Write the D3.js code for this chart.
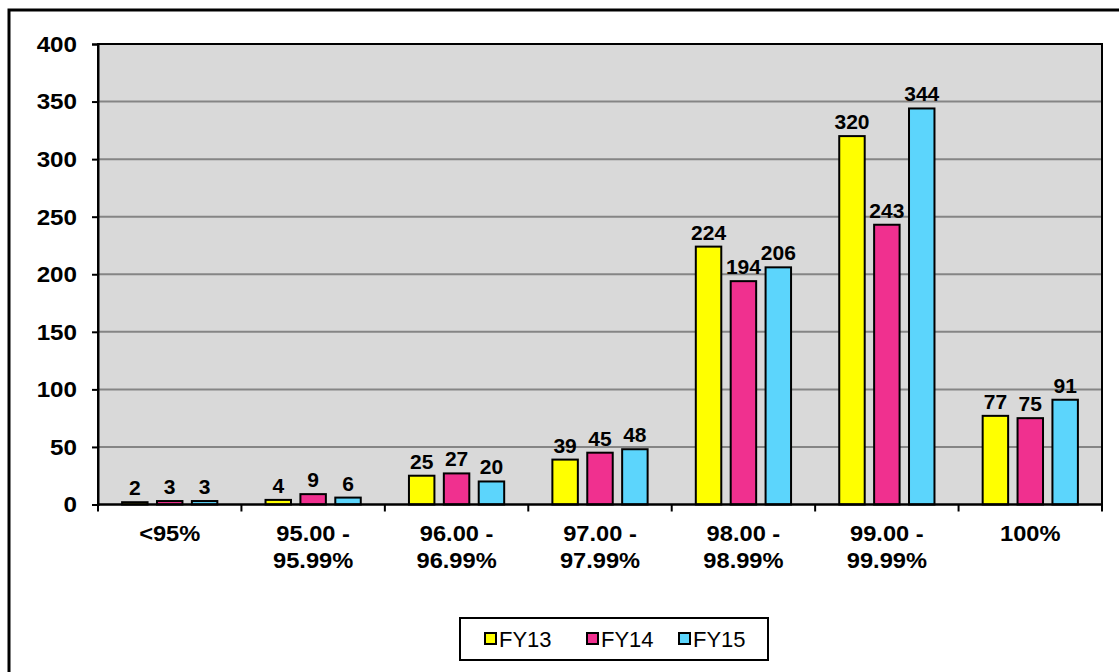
<!DOCTYPE html>
<html>
<head>
<meta charset="utf-8">
<script src="https://cdn.jsdelivr.net/npm/d3@7/dist/d3.min.js"></script>
<style>
  html, body { margin: 0; padding: 0; background: #fff; }
  svg { display: block; font-family: "Liberation Sans", Arial, sans-serif; }
</style>
</head>
<body>
<svg id="chart" width="1119" height="672"></svg>
<script>
// Accuracy bands and yearly counts
const categories = [["<95%"], ["95.00 -", "95.99%"], ["96.00 -", "96.99%"], ["97.00 -", "97.99%"],
                    ["98.00 -", "98.99%"], ["99.00 -", "99.99%"], ["100%"]];
const seriesNames = ["FY13", "FY14", "FY15"];
const fy13 = [2, 4, 25, 39, 224, 320, 77];
const fy14 = [3, 9, 27, 45, 194, 243, 75];
const fy15 = [3, 6, 20, 48, 206, 344, 91];
const yTicks = [0, 50, 100, 150, 200, 250, 300, 350, 400];
const colors = ["#ffff00", "#f0308f", "#5cd5fc"];

const series = [fy13, fy14, fy15];
const svg = d3.select("#chart");

// outer frame
svg.append("rect").attr("x", 9).attr("y", 10).attr("width", 1130).attr("height", 680)
  .attr("fill", "#fff").attr("stroke", "#000").attr("stroke-width", 3);

const plot = { left: 98, right: 1102, top: 44, bottom: 504.5 };

const y = d3.scaleLinear().domain([0, 400]).range([plot.bottom, plot.top]);
const x0 = d3.scaleBand().domain(d3.range(categories.length)).range([plot.left, plot.right]).padding(0);
const groupOffset = x0.bandwidth() * 0.168;
const x1 = d3.scaleBand().domain(d3.range(series.length))
  .range([0, x0.bandwidth() - 2 * groupOffset]).paddingInner(0.27).paddingOuter(0);

// plot background
svg.append("rect").attr("x", plot.left).attr("y", plot.top)
  .attr("width", plot.right - plot.left).attr("height", plot.bottom - plot.top)
  .attr("fill", "#d9d9d9");

// gridlines
svg.append("g").selectAll("line").data(yTicks.filter(d => d > 0 && d < 400)).join("line")
  .attr("x1", plot.left).attr("x2", plot.right)
  .attr("y1", d => y(d)).attr("y2", d => y(d))
  .attr("stroke", "#858585").attr("stroke-width", 2);

// bars with value labels
const groups = svg.append("g").selectAll("g").data(categories).join("g")
  .attr("transform", (d, i) => `translate(${x0(i) + groupOffset},0)`);

groups.each(function(c, i) {
  const g = d3.select(this);
  series.forEach((s, j) => {
    const v = s[i];
    g.append("rect")
      .attr("x", x1(j)).attr("width", x1.bandwidth())
      .attr("y", y(v)).attr("height", y(0) - y(v))
      .attr("fill", colors[j]).attr("stroke", "#000").attr("stroke-width", 2);
    g.append("text")
      .attr("x", x1(j) + x1.bandwidth() / 2).attr("y", y(v) - 7)
      .attr("text-anchor", "middle").attr("font-size", 21).attr("font-weight", "bold")
      .text(v);
  });
});

// plot frame
svg.append("rect").attr("x", plot.left).attr("y", plot.top)
  .attr("width", plot.right - plot.left).attr("height", plot.bottom - plot.top)
  .attr("fill", "none").attr("stroke", "#000").attr("stroke-width", 2);

// y axis: line and ticks from d3.axisLeft, labels set slightly wide
const yAxis = d3.axisLeft(y).tickValues(yTicks).tickSize(6).tickFormat("");
const ya = svg.append("g").attr("transform", `translate(${plot.left},0)`).call(yAxis);
ya.select(".domain").attr("stroke", "#000").attr("stroke-width", 2);
ya.selectAll(".tick line").attr("stroke", "#000").attr("stroke-width", 2);
svg.append("g").selectAll("text").data(yTicks).join("text")
  .attr("transform", d => `translate(77,${y(d)}) scale(1.1,1)`)
  .attr("dy", "0.36em")
  .attr("text-anchor", "end").attr("font-size", 22).attr("font-weight", "bold")
  .text(d => d);

// x axis: boundary ticks and two-line labels
const boundaries = d3.range(categories.length + 1).map(i => plot.left + i * x0.bandwidth());
svg.append("line").attr("x1", plot.left).attr("x2", plot.right)
  .attr("y1", plot.bottom).attr("y2", plot.bottom).attr("stroke", "#000").attr("stroke-width", 2);
svg.append("g").selectAll("line").data(boundaries).join("line")
  .attr("x1", d => d).attr("x2", d => d)
  .attr("y1", plot.bottom).attr("y2", plot.bottom + 7)
  .attr("stroke", "#000").attr("stroke-width", 2);

const xl = svg.append("g").selectAll("text").data(categories).join("text")
  .attr("transform", (d, i) => `translate(${x0(i) + x0.bandwidth() / 2},541) scale(1.1,1)`)
  .attr("text-anchor", "middle").attr("font-size", 21.5).attr("font-weight", "bold");
xl.each(function(lines) {
  const t = d3.select(this);
  lines.forEach((ln, k) => {
    t.append("tspan").attr("x", 0).attr("dy", k === 0 ? 0 : 27.5).text(ln);
  });
});

// legend
const legend = svg.append("g");
legend.append("rect").attr("x", 460).attr("y", 618).attr("width", 308).attr("height", 42)
  .attr("fill", "#fff").attr("stroke", "#000").attr("stroke-width", 2);
const legendX = [485, 587, 679];
seriesNames.forEach((name, j) => {
  legend.append("rect").attr("x", legendX[j]).attr("y", 633).attr("width", 11).attr("height", 11)
    .attr("fill", colors[j]).attr("stroke", "#000").attr("stroke-width", 2);
  legend.append("text").attr("x", legendX[j] + 14).attr("y", 647)
    .attr("font-size", 22).text(name);
});
</script>
</body>
</html>
